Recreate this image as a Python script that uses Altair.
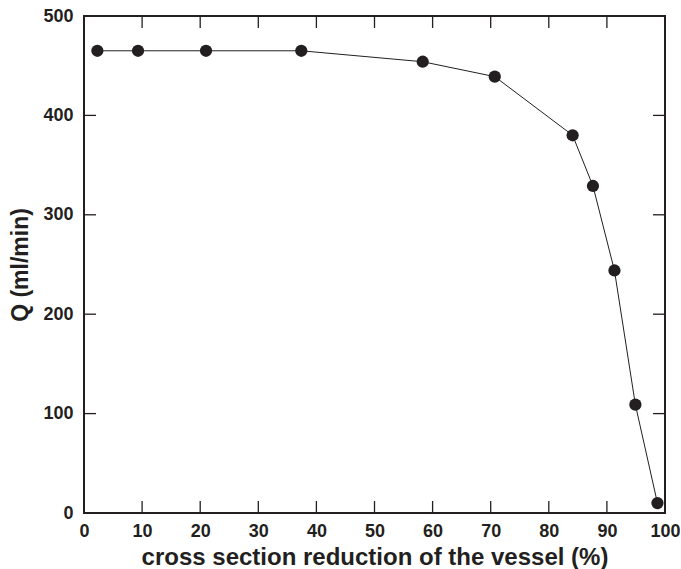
import altair as alt
import pandas as pd

reduction = [2.3, 9.3, 21.0, 37.4, 58.3, 70.7, 84.1, 87.6, 91.3, 94.9, 98.7]
flow = [465, 465, 465, 465, 454, 439, 380, 329, 244, 109, 10]
x_ticks = [10, 20, 30, 40, 50, 60, 70, 80, 90]
y_ticks = [100, 200, 300, 400]
x_labels = [0, 10, 20, 30, 40, 50, 60, 70, 80, 90, 100]
y_labels = [0, 100, 200, 300, 400, 500]

W, H = 581, 497
TL = 12
INK = "#231f20"
FONT = "Liberation Sans"

df = pd.DataFrame({"x": reduction, "y": flow})
dx = pd.DataFrame({"t": x_ticks})
dy = pd.DataFrame({"t": y_ticks})

xs = alt.Scale(domain=[0, 100], nice=False, zero=False)
ys = alt.Scale(domain=[0, 500], nice=False, zero=False)

xaxis = alt.Axis(values=x_labels, tickSize=0, domain=False, grid=False, labelPadding=9,
                 labelFontSize=18, labelFontWeight="bold", labelFont=FONT, labelColor=INK,
                 title="cross section reduction of the vessel (%)", titleFontSize=24,
                 titleFont=FONT, titleFontWeight="bold", titleColor=INK, titlePadding=5,
                 labelFlush=False)
yaxis = alt.Axis(values=y_labels, tickSize=0, domain=False, grid=False, labelPadding=11,
                 labelFontSize=18, labelFontWeight="bold", labelFont=FONT, labelColor=INK,
                 title="Q (ml/min)", titleFontSize=23, titleFont=FONT, titleFontWeight="bold",
                 titleColor=INK, titlePadding=10)

line = alt.Chart(df).mark_line(color=INK, strokeWidth=1).encode(
    x=alt.X("x:Q", scale=xs, axis=xaxis),
    y=alt.Y("y:Q", scale=ys, axis=yaxis),
)
pts = alt.Chart(df).mark_circle(color=INK, opacity=1, size=150).encode(
    x=alt.X("x:Q", scale=xs), y=alt.Y("y:Q", scale=ys)
)

tick_style = dict(color=INK, strokeWidth=1.3)
bottom = alt.Chart(dx).mark_rule(**tick_style).encode(
    x=alt.X("t:Q", scale=xs), y=alt.value(H), y2=alt.value(H - TL))
top = alt.Chart(dx).mark_rule(**tick_style).encode(
    x=alt.X("t:Q", scale=xs), y=alt.value(0), y2=alt.value(TL))
left = alt.Chart(dy).mark_rule(**tick_style).encode(
    y=alt.Y("t:Q", scale=ys), x=alt.value(0), x2=alt.value(TL))
right = alt.Chart(dy).mark_rule(**tick_style).encode(
    y=alt.Y("t:Q", scale=ys), x=alt.value(W), x2=alt.value(W - TL))

chart = alt.layer(line, pts, bottom, top, left, right).properties(
    width=W, height=H,
    background="white",
    autosize=alt.AutoSizeParams(type="none"),
    padding={"left": 84, "top": 16, "right": 15, "bottom": 56},
).configure_view(stroke=INK, strokeWidth=2)

chart.save("out.html", embed_options={"renderer": "svg", "actions": False})
